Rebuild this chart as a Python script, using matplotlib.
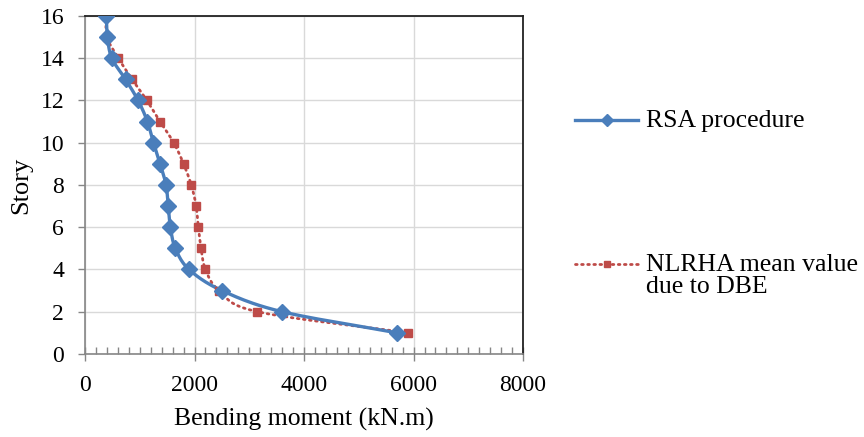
import numpy as np
import matplotlib
matplotlib.use("Agg")
import matplotlib.pyplot as plt
from matplotlib.lines import Line2D
from matplotlib.ticker import MultipleLocator

plt.rcParams['font.family'] = ['Liberation Serif', 'DejaVu Serif']

story = [1, 2, 3, 4, 5, 6, 7, 8, 9, 10, 11, 12, 13, 14, 15, 16]
rsa = [5700, 3600, 2500, 1900, 1650, 1560, 1520, 1480, 1370, 1250, 1140, 970, 740, 490, 410, 390]
nlrha = [5900, 3150, 2450, 2200, 2120, 2070, 2030, 1940, 1800, 1620, 1370, 1130, 860, 610, 400, 390]
labels = ["RSA procedure", "NLRHA mean value\ndue to DBE"]

BLUE = "#4A7EBB"
RED = "#BE4B48"


def smooth(x, y, n=20):
    # catmull-rom through the points, like excel's smoothed line
    x = np.asarray(x, float)
    y = np.asarray(y, float)
    px = np.concatenate([[2 * x[0] - x[1]], x, [2 * x[-1] - x[-2]]])
    py = np.concatenate([[2 * y[0] - y[1]], y, [2 * y[-1] - y[-2]]])
    xs, ys = [], []
    t = np.linspace(0, 1, n, endpoint=False)
    for i in range(1, len(px) - 2):
        for p, out in ((px, xs), (py, ys)):
            p0, p1, p2, p3 = p[i - 1], p[i], p[i + 1], p[i + 2]
            out.extend(0.5 * ((2 * p1) + (-p0 + p2) * t
                              + (2 * p0 - 5 * p1 + 4 * p2 - p3) * t ** 2
                              + (-p0 + 3 * p1 - 3 * p2 + p3) * t ** 3))
    xs.append(x[-1])
    ys.append(y[-1])
    return np.array(xs), np.array(ys)


fig = plt.figure(figsize=(8.64, 4.37), dpi=100)
ax = fig.add_axes([0.0984, 0.190, 0.507, 0.7734])

sx, sy = smooth(rsa, story)
ax.plot(sx, sy, color=BLUE, lw=2.4, zorder=3)
ax.plot(rsa, story, ls="none", marker="D", ms=8.5, color=BLUE, zorder=4)

sx, sy = smooth(nlrha, story)
ax.plot(sx, sy, color=RED, lw=2.0, ls=(0, (0.6, 1.6)), dash_capstyle="round", zorder=2)
ax.plot(nlrha, story, ls="none", marker="s", ms=6, color=RED, zorder=3)

ax.set_xlim(0, 8000)
ax.set_ylim(0, 16)
ax.xaxis.set_major_locator(MultipleLocator(2000))
ax.xaxis.set_minor_locator(MultipleLocator(200))
ax.yaxis.set_major_locator(MultipleLocator(2))

ax.grid(True, which="major", color="#d9d9d9", lw=1.0)
ax.set_axisbelow(True)

for s in ("left", "bottom"):
    ax.spines[s].set_color("#868686")
    ax.spines[s].set_linewidth(1.2)
for s in ("top", "right"):
    ax.spines[s].set_color("#222222")
    ax.spines[s].set_linewidth(1.3)

ax.tick_params(axis="x", which="major", direction="inout", length=10, color="#868686", width=1.0,
               labelsize=17, pad=10)
ax.tick_params(axis="x", which="minor", direction="in", length=5, color="#868686", width=1.0)
ax.tick_params(axis="y", which="major", direction="out", length=5, color="#868686", width=1.0,
               labelsize=17, pad=10)
ax.tick_params(top=False, right=False)

ax.set_xlabel("Bending moment (kN.m)", fontsize=18.5, labelpad=9)
ax.set_ylabel("Story", fontsize=19, labelpad=6)

# legend drawn at the right of the plot
fx = lambda px: px / 864
fy = lambda py: 1 - py / 437
fig.add_artist(Line2D([fx(575), fx(638)], [fy(120), fy(120)], color=BLUE, lw=2.4))
fig.add_artist(Line2D([fx(607)], [fy(120)], marker="D", ms=6, color=BLUE))
fig.text(fx(646), fy(121), labels[0], fontsize=18.5, va="center", ha="left")

fig.add_artist(Line2D([fx(575), fx(638)], [fy(264), fy(264)], color=RED, lw=2.0,
                      ls=(0, (0.6, 1.6)), dash_capstyle="round"))
fig.add_artist(Line2D([fx(607)], [fy(264)], marker="s", ms=4.5, color=RED))
fig.text(fx(646), fy(254), labels[1], fontsize=18.5, va="top", ha="left", linespacing=1.02)

fig.savefig("out.png", dpi=100)
